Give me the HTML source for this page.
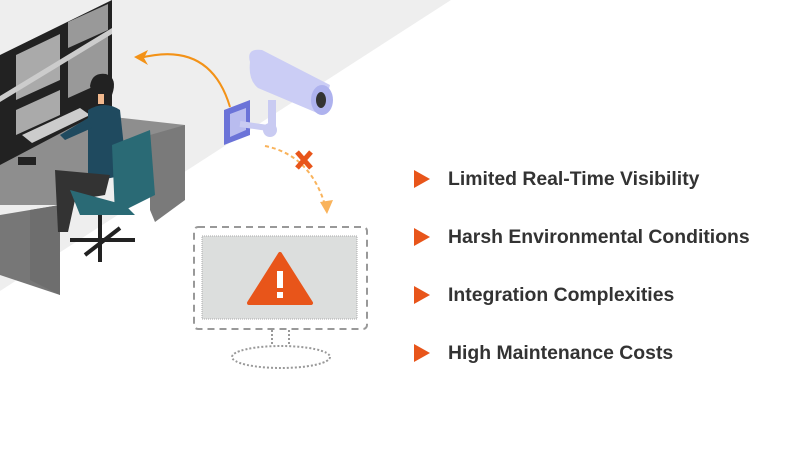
<!DOCTYPE html>
<html><head><meta charset="utf-8"><style>
body{margin:0;width:800px;height:450px;background:#fff;overflow:hidden;font-family:"Liberation Sans",sans-serif}
.t{position:absolute;left:448px;font-size:19.4px;font-weight:bold;color:#333}
.a{position:absolute;left:414px;width:0;height:0;border-top:9px solid transparent;border-bottom:9px solid transparent;border-left:16px solid #e8551a}
</style></head><body>
<svg width="800" height="450" style="position:absolute;left:0;top:0">
<polygon points="0,0 451,0 0,291" fill="#eeeeee"/>
<!-- monitors wall -->
<polygon points="0,55 112,0 112,135 0,190" fill="#222"/>
<polygon points="16,55 60,34 60,80 16,100" fill="#aaa"/>
<polygon points="68,22 108,4 108,30 68,48" fill="#999"/>
<polygon points="16,110 60,90 60,115 16,135" fill="#aaa"/>
<polygon points="68,55 108,36 108,80 68,98" fill="#999"/>
<polygon points="0,96 112,28 112,34 0,102" fill="#ccc"/>
<!-- desk -->
<polygon points="0,165 95,115 185,125 185,135 60,205 0,205" fill="#8e8e8e"/>
<polygon points="0,215 60,205 60,295 0,275" fill="#777"/>
<polygon points="30,210 60,205 60,295 30,280" fill="#6e6e6e"/>
<polygon points="150,135 185,125 185,200 155,222 150,210" fill="#7a7a7a"/>
<polygon points="22,135 80,108 90,115 32,143" fill="#ccc"/>
<rect x="18" y="157" width="18" height="8" fill="#222"/>
<!-- person -->
<path d="M90,86 Q92,72 106,74 Q118,78 112,95 L112,105 L95,105 Z" fill="#222"/>
<rect x="98" y="94" width="6" height="10" fill="#f1b88d"/>
<path d="M88,110 Q105,100 120,110 L127,175 L88,182 Z" fill="#1f4a5f"/>
<path d="M88,118 L60,135 L65,140 L92,128 Z" fill="#1f4a5f"/>
<path d="M55,170 L110,175 L105,195 L75,200 L68,232 L58,232 Z" fill="#333"/>
<!-- chair -->
<path d="M112,145 L150,130 L155,195 L115,215 Z" fill="#2a6a75"/>
<path d="M70,190 L125,205 L135,215 L80,215 Z" fill="#2a6a75"/>
<path d="M100,215 L100,245 M70,240 L135,240 M85,255 L120,228 M100,245 L100,262" stroke="#222" stroke-width="4"/>
<!-- camera -->
<polygon points="224,110 250,100 250,135 224,145" fill="#6b73d8"/>
<polygon points="230,114 246,108 246,130 230,137" fill="#b9bcef"/>
<path d="M240,124 L268,128" stroke="#c9cbf2" stroke-width="6"/>
<circle cx="270" cy="130" r="7" fill="#c9cbf2"/>
<path d="M272,100 L272,128" stroke="#c9cbf2" stroke-width="8"/>
<path d="M250,62 Q246,48 262,50 L330,85 L322,115 L258,88 Q248,80 250,62 Z" fill="#cbcdf5"/>
<ellipse cx="322" cy="100" rx="11" ry="15" fill="#aeb2ee"/>
<ellipse cx="321" cy="100" rx="5" ry="8" fill="#333"/>
<!-- arrows -->
<path d="M230,107 Q210,40 140,58" fill="none" stroke="#f39217" stroke-width="2"/>
<polygon points="134,57 148,50 144,58 148,65" fill="#f39217"/>
<path d="M265,146 Q310,155 325,205" fill="none" stroke="#f9b35b" stroke-width="2" stroke-dasharray="4,3"/>
<polygon points="320,202 333,200 327,214" fill="#f9b35b"/>
<path d="M297,152 L311,168 M311,152 L297,168" stroke="#e8551a" stroke-width="5"/>
<!-- monitor -->
<rect x="194" y="227" width="173" height="102" rx="4" fill="none" stroke="#999" stroke-width="2" stroke-dasharray="7,5"/>
<rect x="202" y="236" width="155" height="83" fill="#dcdedd" stroke="#aaa" stroke-dasharray="1,1"/>
<path d="M272,330 L272,346 M289,330 L289,346" stroke="#999" stroke-width="2" stroke-dasharray="2,2"/>
<ellipse cx="281" cy="357" rx="49" ry="11" fill="none" stroke="#999" stroke-width="2" stroke-dasharray="2,2"/>
<path d="M280,254 L311,303 L249,303 Z" fill="#e8551a" stroke="#e8551a" stroke-width="4" stroke-linejoin="round"/>
<rect x="277" y="271" width="6" height="17" fill="#fff"/>
<rect x="277" y="292" width="6" height="6" fill="#fff"/>
</svg>
<div class="a" style="top:170px"></div><div class="t" style="top:168px">Limited Real-Time Visibility</div>
<div class="a" style="top:228px"></div><div class="t" style="top:226px">Harsh Environmental Conditions</div>
<div class="a" style="top:286px"></div><div class="t" style="top:284px">Integration Complexities</div>
<div class="a" style="top:344px"></div><div class="t" style="top:342px">High Maintenance Costs</div>
</body></html>
